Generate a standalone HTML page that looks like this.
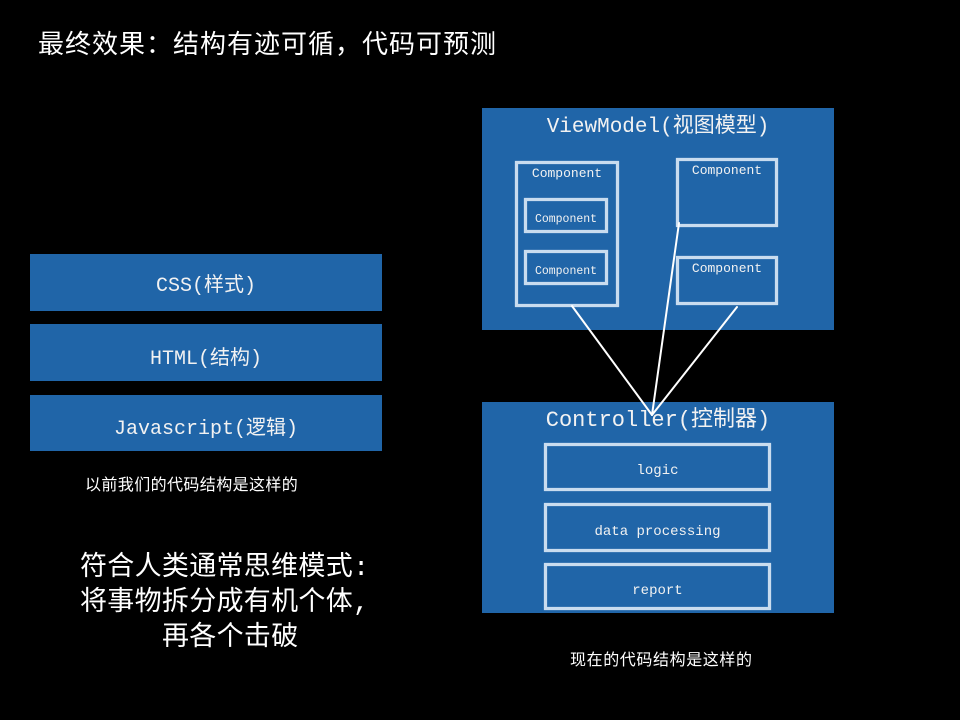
<!DOCTYPE html>
<html>
<head>
<meta charset="utf-8">
<style>
  html,body{margin:0;padding:0;background:#000;}
  body{width:960px;height:720px;position:relative;overflow:hidden;
    font-family:"Liberation Sans","Noto Sans CJK SC",sans-serif;color:#fff;}
  .abs{position:absolute;}
  .blue{position:absolute;background:#2065a8;}
  .lbl{position:absolute;left:0;right:0;text-align:center;white-space:nowrap;
    font-family:"Liberation Mono","Noto Sans CJK SC",monospace;color:#f2f2f2;}
  .comp{position:absolute;box-sizing:border-box;border:3px solid #c9dcef;
    box-shadow:0 0 1px #9fc0e0, inset 0 0 1px #9fc0e0;}
  .cjk{font-family:"Liberation Sans","Noto Sans CJK SC",sans-serif;white-space:nowrap;}
</style>
</head>
<body>

<!-- Title -->
<div class="abs cjk" style="left:38px;top:27px;font-size:26px;line-height:34px;letter-spacing:1px;">最终效果：结构有迹可循，代码可预测</div>

<!-- Left stacked boxes -->
<div class="blue" style="left:30px;top:254px;width:352px;height:57px;">
  <div class="lbl" style="top:19px;font-size:20px;line-height:28px;">CSS(样式)</div>
</div>
<div class="blue" style="left:30px;top:324px;width:352px;height:57px;">
  <div class="lbl" style="top:22px;font-size:20px;line-height:28px;">HTML(结构)</div>
</div>
<div class="blue" style="left:30px;top:395px;width:352px;height:56px;">
  <div class="lbl" style="top:21px;font-size:20px;line-height:28px;">Javascript(逻辑)</div>
</div>

<div class="abs cjk" style="left:85px;top:475px;font-size:16px;line-height:22px;letter-spacing:0.4px;">以前我们的代码结构是这样的</div>

<!-- Big text -->
<div class="abs cjk" style="left:80px;top:549px;font-size:27px;line-height:35px;letter-spacing:0.3px;">符合人类通常思维模式<span style="font-family:'Liberation Mono',monospace;">:</span></div>
<div class="abs cjk" style="left:80px;top:584px;font-size:27px;line-height:35px;letter-spacing:0.3px;">将事物拆分成有机个体<span style="font-family:'Liberation Mono',monospace;">,</span></div>
<div class="abs cjk" style="left:162px;top:619px;font-size:27px;line-height:35px;letter-spacing:0.3px;">再各个击破</div>

<!-- ViewModel -->
<div class="blue" style="left:482px;top:108px;width:352px;height:222px;">
  <div class="lbl" style="top:6px;font-size:21px;line-height:28px;">ViewModel(视图模型)</div>
</div>
<div class="comp" style="left:515px;top:161px;width:104px;height:146px;"></div>
<div class="abs" style="left:515px;top:165px;width:104px;"><div class="lbl" style="top:0;font-size:13px;line-height:18px;">Component</div></div>
<div class="comp" style="left:524px;top:198px;width:84px;height:35px;">
  <div class="lbl" style="top:12px;font-size:11.5px;line-height:14px;">Component</div>
</div>
<div class="comp" style="left:524px;top:250px;width:84px;height:35px;">
  <div class="lbl" style="top:12px;font-size:11.5px;line-height:14px;">Component</div>
</div>
<div class="comp" style="left:676px;top:158px;width:102px;height:69px;">
  <div class="lbl" style="top:1px;font-size:13px;line-height:18px;">Component</div>
</div>
<div class="comp" style="left:676px;top:256px;width:102px;height:49px;">
  <div class="lbl" style="top:1px;font-size:13px;line-height:18px;">Component</div>
</div>

<!-- Controller -->
<div class="blue" style="left:482px;top:402px;width:352px;height:211px;">
  <div class="lbl" style="top:5px;font-size:22px;line-height:28px;">Controller(控制器)</div>
</div>
<div class="comp" style="left:544px;top:443px;width:227px;height:48px;">
  <div class="lbl" style="top:16px;font-size:14px;line-height:18px;">logic</div>
</div>
<div class="comp" style="left:544px;top:503px;width:227px;height:49px;">
  <div class="lbl" style="top:17px;font-size:14px;line-height:18px;">data processing</div>
</div>
<div class="comp" style="left:544px;top:563px;width:227px;height:47px;">
  <div class="lbl" style="top:16px;font-size:14px;line-height:18px;">report</div>
</div>

<!-- connectors -->
<svg class="abs" style="left:0;top:0;" width="960" height="720" viewBox="0 0 960 720">
  <g stroke="#ffffff" stroke-width="2" stroke-linecap="round">
    <line x1="572" y1="306" x2="652" y2="415"/>
    <line x1="679" y1="223" x2="652" y2="415"/>
    <line x1="737" y1="307" x2="652" y2="415"/>
  </g>
</svg>

<div class="abs cjk" style="left:570px;top:650px;font-size:16px;line-height:22px;letter-spacing:0.6px;">现在的代码结构是这样的</div>

</body>
</html>
